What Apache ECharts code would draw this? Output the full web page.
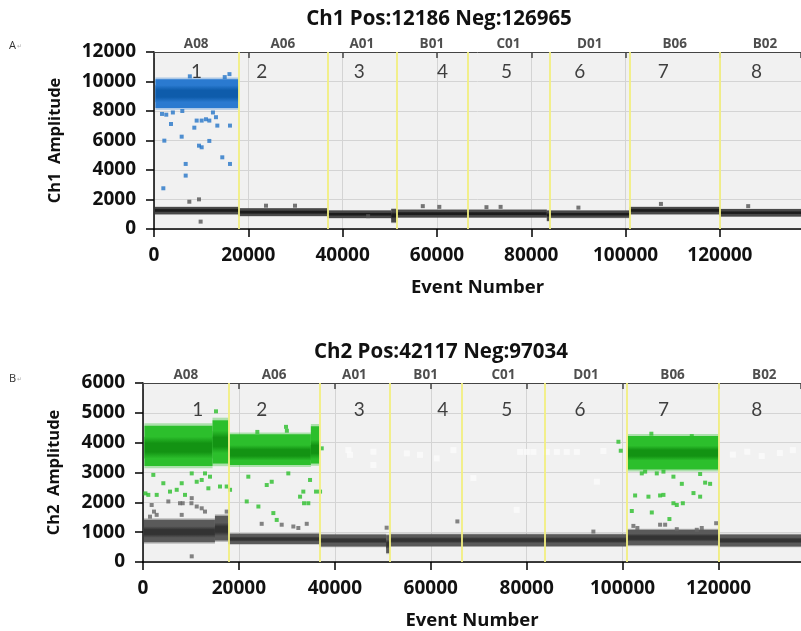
<!DOCTYPE html>
<html>
<head>
<meta charset="utf-8">
<script src="https://cdn.jsdelivr.net/npm/echarts@6/dist/echarts.min.js"></script>
<style>
html,body{margin:0;padding:0;background:#fff;}
#chart{width:801px;height:631px;}
</style>
</head>
<body>
<div id="chart"></div>
<script>
// ---------- data ----------
const wellNames = ['A08','A06','A01','B01','C01','D01','B06','B02'];
const wellStarts = [0, 17900, 36780, 51400, 66450, 83870, 100900, 119950];
const totalEvents = 139151;
const xMax = 137200;

const titleA = 'Ch1 Pos:12186 Neg:126965';
const titleB = 'Ch2 Pos:42117 Neg:97034';

// annotation numbers 1..8 (x positions, y level)
const numLabels = ['1','2','3','4','5','6','7','8'];
const numXA = [9040, 22830, 43530, 61200, 74770, 90310, 107990, 127770];
const numYA = 10660;
const numXB = [11400, 24750, 45110, 62500, 75850, 91140, 108510, 127970];
const numYB = 5110;

// dense droplet clouds: [xStart, xEnd, low, high, coreLow, coreHigh]
const ch1PosBand = [
  [300, 17900, 8200, 10150, 8600, 9750]
];
const ch1NegBand = [
  [200, 17900, 1000, 1500, 1120, 1400],
  [17900, 36780, 880, 1400, 1000, 1280],
  [36780, 50300, 750, 1250, 870, 1130],
  [50300, 51400, 450, 1350, 700, 1150],
  [51400, 66450, 780, 1300, 900, 1180],
  [66450, 83300, 780, 1300, 900, 1180],
  [83300, 83870, 550, 1250, 800, 1100],
  [83870, 100900, 760, 1250, 880, 1130],
  [100900, 119950, 1000, 1500, 1120, 1400],
  [119950, 137200, 850, 1350, 980, 1230]
];
const ch2PosBand = [
  [300, 14500, 3220, 4570, 3470, 4200],
  [14500, 17800, 3300, 4750, 3650, 4400],
  [17800, 35000, 3250, 4280, 3400, 3920],
  [35000, 36780, 3300, 4550, 3450, 4100],
  [101080, 120000, 3100, 4220, 3400, 3900]
];
const ch2NegBand = [
  [200, 15000, 660, 1420, 810, 1200],
  [15000, 17800, 720, 1550, 870, 1320],
  [17800, 36780, 600, 950, 680, 860],
  [36780, 50700, 520, 920, 620, 830],
  [50700, 51500, 300, 900, 450, 750],
  [51500, 66450, 530, 930, 630, 840],
  [66450, 83870, 530, 930, 630, 840],
  [83870, 100900, 530, 930, 630, 840],
  [100900, 119950, 560, 1080, 680, 950],
  [119950, 137200, 520, 920, 620, 830]
];

// scattered single droplets [event, amplitude]
const ch1PosPoints = [
  [1980,2760],[2190,5990],[1700,7800],[2600,7750],[3600,7120],[5870,6260],[6720,4410],[6720,3620],
  [8550,6870],[9050,7350],[10110,7350],[9540,5650],[10110,5540],[11020,7440],[11730,7350],
  [11730,5970],[13140,7580],[13430,7010],[14480,4860],[16110,7010],[16110,4410],
  [7600,10350],[16000,10500],[4000,7900],[12500,7900],[6000,8000],[15000,10300]
];
const ch1NegPoints = [
  [7490,1850],[9540,2010],[9890,500],[23750,1580],[29900,1580],[45400,870],
  [57000,1550],[60500,1500],[70500,1480],[73500,1500],[90000,1450],[107500,1700],[126000,1550]
];
const ch2PosPoints = [
  [500,2300],[1110,2250],[2860,2250],[2150,2920],[4240,2640],[5630,2360],[7030,2420],[8070,2640],
  [8760,2250],[10160,2970],[11200,2690],[12240,2750],[12930,2970],[13630,2470],[13970,2860],
  [15220,5050],[16060,2530],[17450,2530],[18150,2420],[21960,2860],[21630,2030],[24060,1860],
  [23840,4360],[25800,2580],[26840,2690],[27180,1640],[27880,1410],[29820,4530],[30000,4400],
  [30300,2970],[32750,2190],[33430,2360],[33580,1970],[34470,1970],[34830,2750],[36080,2360],
  [36920,2360],[37270,3810],
  [99130,4030],[99620,3730],[104000,2970],[104700,3030],[107130,2970],[108520,3030],[110600,2860],
  [112350,2620],[116170,2950],[117210,2660],[118250,2620],[102610,2230],[105390,2190],[107820,2230],
  [108520,2250],[114780,2310],[116170,2190],[101920,1710],[106090,1660],[110600,1970],[111300,1910],
  [112560,1970],[109760,1440],[114430,4220],[106000,4300]
];
const ch2NegPoints = [
  [1810,1910],[2290,1690],[1460,1520],[2850,1580],[5280,2030],[7720,1970],[8280,1970],[10160,2140],
  [10100,1970],[11200,1860],[12240,1800],[12930,1690],[10160,190],[8070,1580],[17450,1690],
  [24750,1280],[28920,1250],[31350,1190],[32390,1140],[34140,1280],
  [65550,1360],[93910,1020],[102250,1210],[103080,1140],[107820,1250],[108870,1250],
  [111300,1100],[115470,1080],[116510,1140],[119510,1300],[50800,1150]
];
// white artefact squares in Ch2 panel
const ch2WhitePoints = [
  [43170,3590],[42820,3750],[48030,3700],[48030,3250],[55000,3640],[57770,3590],[61250,3470],
  [64720,3750],[68890,2810],[77930,1750],[78630,3690],[80020,3690],[81410,3690],[84190,3690],
  [86280,3690],[88360,3690],[90450,3690],[94620,2690],[96000,3720],[123000,3600],[126000,3700],
  [129000,3550],[132800,3650],[135500,3750]
];

// ---------- helpers ----------
const FONT = 'Open Sans';
function bandSeries(data, xi, yi, outer, core) {
  return {
    type: 'custom', xAxisIndex: xi, yAxisIndex: yi, data: data, z: 3, silent: true,
    encode: { x: [0, 1], y: [2, 3] },
    renderItem: function (params, api) {
      const x0 = api.value(0), x1 = api.value(1), lo = api.value(2), hi = api.value(3);
      const pad = (hi - lo) * 0.06;
      const f0 = api.coord([x0, hi + pad]), f1 = api.coord([x1, lo - pad]);
      const a = api.coord([x0, hi]), b = api.coord([x1, lo]);
      const c = api.coord([x0, api.value(5)]), d = api.coord([x1, api.value(4)]);
      return { type: 'group', children: [
        { type: 'rect', shape: { x: f0[0], y: f0[1], width: f1[0] - f0[0], height: f1[1] - f0[1] }, style: { fill: outer, opacity: 0.35 } },
        { type: 'rect', shape: { x: a[0], y: a[1], width: b[0] - a[0], height: b[1] - a[1] }, style: { fill: outer } },
        { type: 'rect', shape: { x: c[0], y: c[1], width: d[0] - c[0], height: d[1] - c[1] },
          style: { fill: new echarts.graphic.LinearGradient(0, 0, 0, 1, [
            { offset: 0, color: outer }, { offset: 0.3, color: core }, { offset: 0.7, color: core }, { offset: 1, color: outer }]) } }
      ]};
    }
  };
}
function pointSeries(data, xi, yi, color, size) {
  return { type: 'scatter', xAxisIndex: xi, yAxisIndex: yi, data: data, symbol: 'rect',
    symbolSize: size || 4, itemStyle: { color: color }, silent: true, z: 4 };
}
function textSeries(xs, ys, texts, xi, yi, style, offsetY) {
  return { type: 'scatter', xAxisIndex: xi, yAxisIndex: yi, symbolSize: 0, silent: true, z: 6,
    data: xs.map((x, i) => ({ value: [x, ys], name: texts[i] })),
    label: Object.assign({ show: true, position: 'inside', formatter: '{b}', offset: [0, offsetY || 0] }, style) };
}
const wellCenters = wellStarts.map((s, i) => (s + (i + 1 < wellStarts.length ? wellStarts[i + 1] : totalEvents)) / 2);
const boundaries = wellStarts.slice(1);

function yellowLines(xi, yi) {
  return { type: 'line', xAxisIndex: xi, yAxisIndex: yi, data: [], silent: true, z: 5,
    markLine: { silent: true, symbol: 'none', label: { show: false },
      lineStyle: { color: '#f2ee80', width: 2, type: 'solid', opacity: 0.9 },
      data: boundaries.map(b => ({ xAxis: b })) } };
}
const plain = v => String(v);

const grids = [
  { left: 154, top: 52, right: 0, height: 177, show: true, backgroundColor: '#f1f1f1', borderWidth: 0 },
  { left: 143, top: 383, right: 0, height: 179, show: true, backgroundColor: '#f1f1f1', borderWidth: 0 }
];
function bottomX(gi) {
  return { type: 'value', gridIndex: gi, min: 0, max: xMax, interval: 20000, position: 'bottom',
    axisLine: { lineStyle: { color: '#000', width: 1.5 }, onZero: false },
    axisTick: { show: true, length: 8, inside: false, lineStyle: { color: '#000', width: 1.5 } },
    axisLabel: { color: '#111', fontFamily: FONT, fontWeight: 'bold', fontSize: 19, margin: 17, showMaxLabel: false, formatter: plain },
    splitLine: { show: true, lineStyle: { color: '#d4d4d4', width: 1 } },
    name: 'Event Number', nameLocation: 'middle', nameGap: 49,
    nameTextStyle: { color: '#111', fontFamily: FONT, fontWeight: 'bold', fontSize: 18.5 } };
}
function topX(gi) {
  return { type: 'value', gridIndex: gi, min: 0, max: xMax, interval: 20000, position: 'top',
    axisLine: { show: true, lineStyle: { color: '#444', width: 1 }, onZero: false },
    axisTick: { show: true, inside: true, length: 6, lineStyle: { color: '#444', width: 1.5 } },
    axisLabel: { show: false }, splitLine: { show: false } };
}
function leftY(gi, max, interval, name, gap) {
  return { type: 'value', gridIndex: gi, min: 0, max: max, interval: interval,
    axisLine: { show: true, lineStyle: { color: '#000', width: 1.5 } },
    axisTick: { show: true, length: 8, lineStyle: { color: '#000', width: 1.5 } },
    axisLabel: { color: '#111', fontFamily: FONT, fontWeight: 'bold', fontSize: 19, margin: 18, formatter: plain },
    splitLine: { show: true, lineStyle: { color: '#d4d4d4', width: 1 } },
    name: name, nameLocation: 'middle', nameGap: gap, nameRotate: 90,
    nameTextStyle: { color: '#111', fontFamily: FONT, fontWeight: 'bold', fontSize: 16.5 } };
}

const wellLabelStyle = { color: '#222', fontFamily: FONT, fontWeight: 'bold', fontSize: 13.5 };
const numStyle = { color: '#111', fontFamily: 'Lato', fontSize: 19 };

const option = {
  animation: false,
  backgroundColor: '#fff',
  title: [
    { text: titleA, left: 434, top: 4, textAlign: 'center',
      textStyle: { fontFamily: FONT, fontWeight: 'bold', fontSize: 20.5, color: '#111' } },
    { text: titleB, left: 436, top: 337, textAlign: 'center',
      textStyle: { fontFamily: FONT, fontWeight: 'bold', fontSize: 20.5, color: '#111' } }
  ],
  graphic: [
    { type: 'text', left: 9, top: 40, style: { text: 'A', fontFamily: FONT, fontSize: 11, fill: '#333' } },
    { type: 'text', left: 17, top: 43, style: { text: '↵', fontFamily: 'DejaVu Sans', fontSize: 6, fill: '#aaa' } },
    { type: 'text', left: 9, top: 373, style: { text: 'B', fontFamily: FONT, fontSize: 11, fill: '#333' } },
    { type: 'text', left: 17, top: 376, style: { text: '↵', fontFamily: 'DejaVu Sans', fontSize: 6, fill: '#aaa' } }
  ],
  grid: grids,
  xAxis: [bottomX(0), bottomX(1), topX(0), topX(1)],
  yAxis: [leftY(0, 12000, 2000, 'Ch1  Amplitude', 90), leftY(1, 6000, 1000, 'Ch2  Amplitude', 80)],
  series: [
    bandSeries(ch1NegBand, 0, 0, '#484848', '#1c1c1c'),
    bandSeries(ch1PosBand, 0, 0, '#2a7ad0', '#0e5cab'),
    pointSeries(ch1PosPoints, 0, 0, '#2675c8'),
    pointSeries(ch1NegPoints, 0, 0, '#555'),
    yellowLines(0, 0),
    textSeries(numXA, numYA, numLabels, 0, 0, numStyle),
    textSeries(wellCenters, 12000, wellNames, 0, 0, wellLabelStyle, -8),

    bandSeries(ch2NegBand, 1, 1, '#5a5a5a', '#333'),
    bandSeries(ch2PosBand, 1, 1, '#2cbf2c', '#139313'),
    pointSeries(ch2PosPoints, 1, 1, '#2cbf2c'),
    pointSeries(ch2NegPoints, 1, 1, '#666'),
    pointSeries(ch2WhitePoints, 1, 1, '#fbfbfb', 6),
    yellowLines(1, 1),
    textSeries(numXB, numYB, numLabels, 1, 1, numStyle),
    textSeries(wellCenters, 6000, wellNames, 1, 1, wellLabelStyle, -8)
  ]
};
const chart = echarts.init(document.getElementById('chart'), null, { renderer: 'canvas' });
chart.setOption(option);
</script>
</body>
</html>
